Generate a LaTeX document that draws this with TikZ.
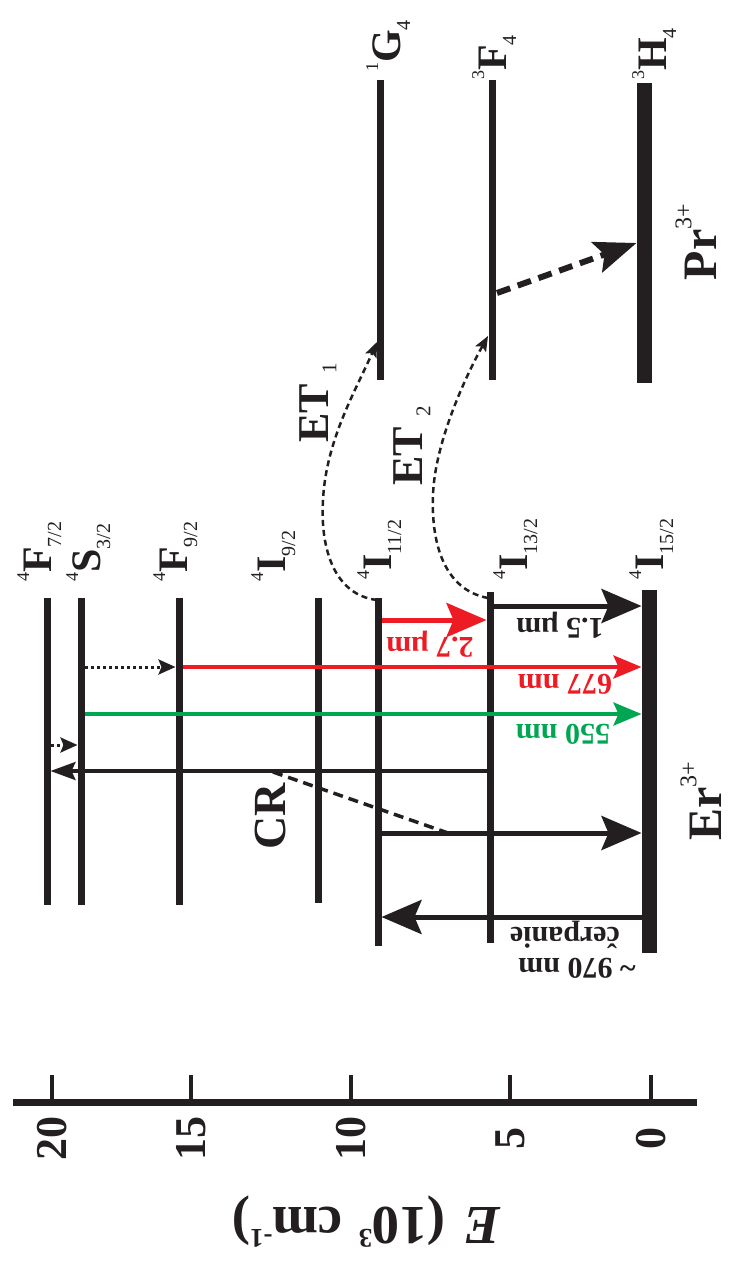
\documentclass[tikz,border=0pt]{standalone}
\usepackage{fontspec}
\setmainfont{Liberation Serif}
\usetikzlibrary{arrows.meta}
\definecolor{ink}{HTML}{231F20}
\definecolor{myred}{HTML}{ED1C24}
\definecolor{mygreen}{HTML}{00A651}
\newcommand\lsup[1]{\raisebox{22pt}{\fontsize{18}{18}\selectfont\mdseries #1}}
\newcommand\lsub[1]{\raisebox{-10pt}{\fontsize{20}{20}\selectfont\mdseries #1}}
\newcommand\ionsup[1]{\raisebox{25pt}{\fontsize{24}{24}\selectfont\mdseries #1}}
\newcommand\etsub[1]{\hspace{10pt}\raisebox{-8pt}{\fontsize{21}{21}\selectfont\mdseries #1}}
\newcommand\axsup[1]{\raisebox{22pt}{\fontsize{27}{27}\selectfont #1}}
\begin{document}
\begin{tikzpicture}[x=1pt,y=-1pt,
  lvl/.style={line width=7pt, draw=ink},
  gnd/.style={line width=15pt, draw=ink},
  lab/.style={rotate=90, anchor=base west, inner sep=0pt, text=ink, font=\fontsize{42}{42}\selectfont\bfseries},
  num/.style={rotate=90, inner sep=0pt, text=ink, font=\fontsize{44}{44}\selectfont\bfseries},
  tl/.style={rotate=180, inner sep=0pt, font=\fontsize{30}{30}\selectfont\bfseries},
  ion/.style={rotate=90, inner sep=0pt, text=ink, font=\fontsize{48}{48}\selectfont\bfseries},
  bigarr/.style={-{Stealth[length=40pt,width=34pt,inset=7pt]}, line width=5pt},
  midarr/.style={-{Stealth[length=28pt,width=23pt,inset=5pt]}, line width=4pt},
  thinarr/.style={-{Stealth[length=25pt,width=18pt,inset=4pt]}, line width=3.5pt, draw=ink},
  dotarr/.style={-{Stealth[length=17pt,width=15pt,inset=3pt]}, line width=3pt, dash pattern=on 3pt off 3pt, draw=ink},
  etarr/.style={-{Stealth[length=15pt,width=12pt,inset=3pt]}, line width=2.5pt, dash pattern=on 6pt off 4pt, draw=ink},
]
\useasboundingbox (0,0) rectangle (733,1263);

% ---------- axis ----------
\coordinate (axL) at (13,1102);
\coordinate (axR) at (697,1102);
\draw[line width=7pt, ink] (axL) -- (axR);
\foreach \xx/\nm in {52/20,191/15,351/10,510/5,651/0}{
  \coordinate (tb\nm) at (\xx,1102);
  \coordinate (tt\nm) at (\xx,1075);
  \draw[line width=4pt, ink] (tb\nm) -- (tt\nm);
  \node[num] (n\nm) at (\xx,1138) {\nm};
}
\node[rotate=180, inner sep=0pt, text=ink, font=\fontsize{55}{55}\selectfont\bfseries] (axlab) at (366,1222)
  {\textit{E}\hspace{18pt}(10\axsup{3}\hspace{16pt}cm\axsup{-1})};

% ---------- Er levels ----------
\draw[lvl] (47,598) -- (47,905);
\draw[lvl] (81,598) -- (81,905);
\draw[lvl] (179,598) -- (179,905);
\draw[lvl] (318,598) -- (318,903);
\draw[lvl] (378,598) -- (378,946);
\draw[lvl] (490,592) -- (490,943);
\draw[gnd] (649,590) -- (649,953);

\node[lab] (lF72) at (51,582) {\lsup{4}F\lsub{7/2}};
\node[lab] (lS32) at (100,582) {\lsup{4}S\lsub{3/2}};
\node[lab] (lF92) at (187,582) {\lsup{4}F\lsub{9/2}};
\node[lab] (lI92) at (285,582) {\lsup{4}I\lsub{9/2}};
\node[lab] (lI112) at (391,580) {\lsup{4}I\lsub{11/2}};
\node[lab] (lI132) at (527,580) {\lsup{4}I\lsub{13/2}};
\node[lab] (lI152) at (663,580) {\lsup{4}I\lsub{15/2}};

% ---------- Pr levels ----------
\draw[lvl] (380,80) -- (380,380);
\draw[lvl] (492,80) -- (492,380);
\draw[gnd] (644,83) -- (644,383);
\node[lab] (lG4) at (400,72) {\lsup{1}G\lsub{4}};
\node[lab] (lF4) at (506,80) {\lsup{3}F\lsub{4}};
\node[lab] (lH4) at (666,80) {\lsup{3}H\lsub{4}};

\node[ion] (er) at (701,801) {Er\ionsup{3+}};
\node[ion] (pr) at (696,242) {Pr\ionsup{3+}};

% ---------- transitions ----------
\coordinate (a1s) at (494,606);  \coordinate (a1e) at (641.5,606);
\draw[bigarr, draw=ink] (a1s) -- (a1e);
\node[tl, text=ink] (l15) at (560,625) {1.5 µm};

\coordinate (a2s) at (381.5,620); \coordinate (a2e) at (486.5,620);
\draw[bigarr, draw=myred] (a2s) -- (a2e);
\node[tl, text=myred] (l27) at (430,644) {2.7 µm};

\coordinate (d1s) at (85,667); \coordinate (d1e) at (175.5,667);
\draw[dotarr] (d1s) -- (d1e);

\coordinate (a3s) at (182.5,667); \coordinate (a3e) at (641.5,667);
\draw[midarr, draw=myred] (a3s) -- (a3e);
\node[tl, text=myred] (l677) at (565,684) {677 nm};

\coordinate (a4s) at (84.5,714); \coordinate (a4e) at (641.5,714);
\draw[midarr, draw=mygreen] (a4s) -- (a4e);
\node[tl, text=mygreen] (l550) at (563,734) {550 nm};

\coordinate (d2s) at (51,745); \coordinate (d2e) at (77.5,745);
\draw[dotarr] (d2s) -- (d2e);

\coordinate (exs) at (487,771); \coordinate (exe) at (50.5,771);
\draw[thinarr] (exs) -- (exe);

\coordinate (crs) at (273,772); \coordinate (cre) at (448,833);
\draw[line width=3.5pt, ink, dash pattern=on 10pt off 6pt] (crs) -- (cre);
\node[rotate=90, inner sep=0pt, text=ink, font=\fontsize{46}{46}\selectfont\bfseries] (cr) at (270,816) {CR};

\coordinate (a5s) at (381.5,833); \coordinate (a5e) at (641.5,833);
\draw[bigarr, draw=ink] (a5s) -- (a5e);

\coordinate (ps) at (641.5,917); \coordinate (pe) at (381.5,917);
\draw[bigarr, draw=ink] (ps) -- (pe);
\node[tl, text=ink] (lcp) at (565,935) {čerpanie};
\node[tl, text=ink] (l970) at (577,968) {\textasciitilde{} 970 nm};

% ---------- energy transfer ----------
\coordinate (e1s) at (377,600); \coordinate (e1e) at (377,342);
\draw[etarr] (e1s) .. controls (335,595) and (320,550) .. (323,500)
                   .. controls (326,440) and (356,390) .. (e1e);
\coordinate (e2s) at (488,598); \coordinate (e2e) at (488,336);
\draw[etarr] (e2s) .. controls (445,590) and (431,545) .. (433,495)
                   .. controls (435,440) and (468,372) .. (e2e);
\node[rotate=90, inner sep=0pt, text=ink, font=\fontsize{44}{44}\selectfont\bfseries] (et1) at (318,403) {ET\etsub{1}};
\node[rotate=90, inner sep=0pt, text=ink, font=\fontsize{44}{44}\selectfont\bfseries] (et2) at (412,446) {ET\etsub{2}};

\coordinate (prs) at (497,293); \coordinate (pre) at (636.5,243);
\draw[-{Stealth[length=42pt,width=32pt,inset=8pt]}, line width=6pt, draw=ink, dash pattern=on 14pt off 8pt] (prs) -- (pre);
\end{tikzpicture}
\end{document}
